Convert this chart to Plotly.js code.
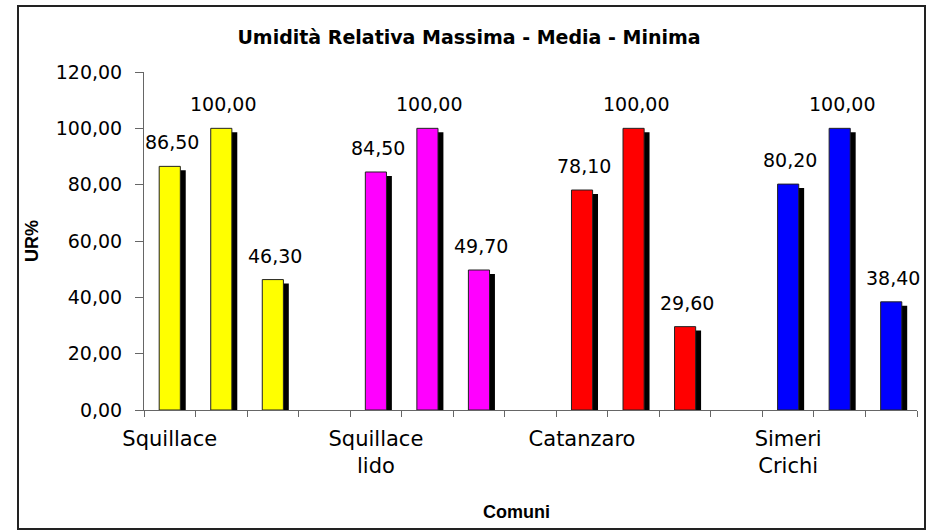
<!DOCTYPE html>
<html>
<head>
<meta charset="utf-8">
<script src="https://cdn.plot.ly/plotly-3.0.1.min.js"></script>
<style>html,body{margin:0;padding:0;background:#fff;}#chart{width:929px;height:532px;}</style>
</head>
<body>
<div id="chart"></div>
<script>
// Data
const comuni = ["Squillace", "Squillace<br>lido", "Catanzaro", "Simeri<br>Crichi"];
const colori = ["#FFFF00", "#FF00FF", "#FF0000", "#0000FF"];
const urMedia   = [86.50, 84.50, 78.10, 80.20];
const urMassima = [100.00, 100.00, 100.00, 100.00];
const urMinima  = [46.30, 49.70, 29.60, 38.40];
const yTicks = [0, 20, 40, 60, 80, 100, 120];

const FONT = 'DejaVu Sans, Arial, sans-serif';
const series = [urMedia, urMassima, urMinima];
const xs = [], ys = [], cs = [];
comuni.forEach((c, g) => {
  series.forEach((s, k) => {
    xs.push(4 * g + k);
    ys.push(s[g]);
    cs.push(colori[g]);
  });
});
const fmt = v => v.toFixed(2).replace('.', ',');

const shadow = {
  type: 'bar', x: xs, y: ys.map(v => v - 1.4), xaxis: 'x', yaxis: 'y',
  width: 0.41, offset: -0.1,
  marker: {color: '#000000', line: {width: 0}},
  hoverinfo: 'skip', showlegend: false
};
const face = {
  type: 'bar', x: xs, y: ys, xaxis: 'x2', yaxis: 'y',
  width: 0.41, offset: -0.205,
  marker: {color: cs, line: {color: '#222222', width: 1}},
  showlegend: false
};
const annotations = xs.map((x, i) => ({
  x: x, y: ys[i], xref: 'x', yref: 'y', text: fmt(ys[i]),
  showarrow: false, yanchor: 'bottom', xanchor: 'center', yshift: 11, xshift: 2,
  font: {family: FONT, size: 19, color: '#000'}
}));
// plot area: x 144..917, y 72..410
annotations.push({
  x: (516 - 144) / 773, y: (410 - 512) / 338, xref: 'paper', yref: 'paper',
  text: '<b>Comuni</b>', showarrow: false, xanchor: 'center', yanchor: 'middle',
  font: {family: 'Liberation Sans, Arial, sans-serif', size: 18, color: '#000'}
});

const layout = {
  width: 929, height: 532,
  margin: {l: 144, r: 12, t: 72, b: 122},
  paper_bgcolor: '#ffffff', plot_bgcolor: '#ffffff',
  barmode: 'overlay',
  font: {family: FONT, color: '#000', size: 19},
  title: {
    text: '<b>Umidità Relativa Massima - Media - Minima</b>',
    x: 469 / 929, xanchor: 'center', y: 1 - 37 / 532, yanchor: 'middle',
    font: {family: FONT, size: 19, color: '#000'}
  },
  xaxis: {
    range: [-0.5, 14.5], tickmode: 'linear', tick0: -0.5, dtick: 1,
    ticks: 'outside', ticklen: 6, tickcolor: '#666', showticklabels: false,
    showgrid: false, zeroline: false, showline: true, linecolor: '#666', linewidth: 1
  },
  xaxis2: {
    overlaying: 'x', anchor: 'y', side: 'bottom',
    range: [-0.5, 14.5], tickmode: 'array',
    tickvals: comuni.map((c, g) => 4 * g), ticktext: comuni,
    ticks: '', showgrid: false, zeroline: false, showline: false,
    tickfont: {family: FONT, size: 21}, ticklabelstandoff: 14
  },
  yaxis: {
    range: [0, 120], tickmode: 'array', tickvals: yTicks, tickformat: '.2f',
    ticks: 'outside', ticklen: 8, tickcolor: '#666', showgrid: false, zeroline: false,
    showline: true, linecolor: '#666', linewidth: 1,
    tickfont: {family: FONT, size: 19}, ticklabelstandoff: 9,
    title: {text: '<b>UR%</b>', font: {family: 'Liberation Sans, Arial, sans-serif', size: 18}, standoff: 12}
  },
  separators: ',.',
  annotations: annotations,
  shapes: [{
    type: 'rect', xref: 'paper', yref: 'paper',
    x0: (18 - 144) / 773, x1: (925 - 144) / 773, y0: (410 - 529) / 338, y1: (410 - 6) / 338,
    line: {color: '#222', width: 2}, fillcolor: 'rgba(0,0,0,0)', layer: 'below'
  }]
};

Plotly.newPlot('chart', [shadow, face], layout, {displayModeBar: false, staticPlot: true});
</script>
</body>
</html>
